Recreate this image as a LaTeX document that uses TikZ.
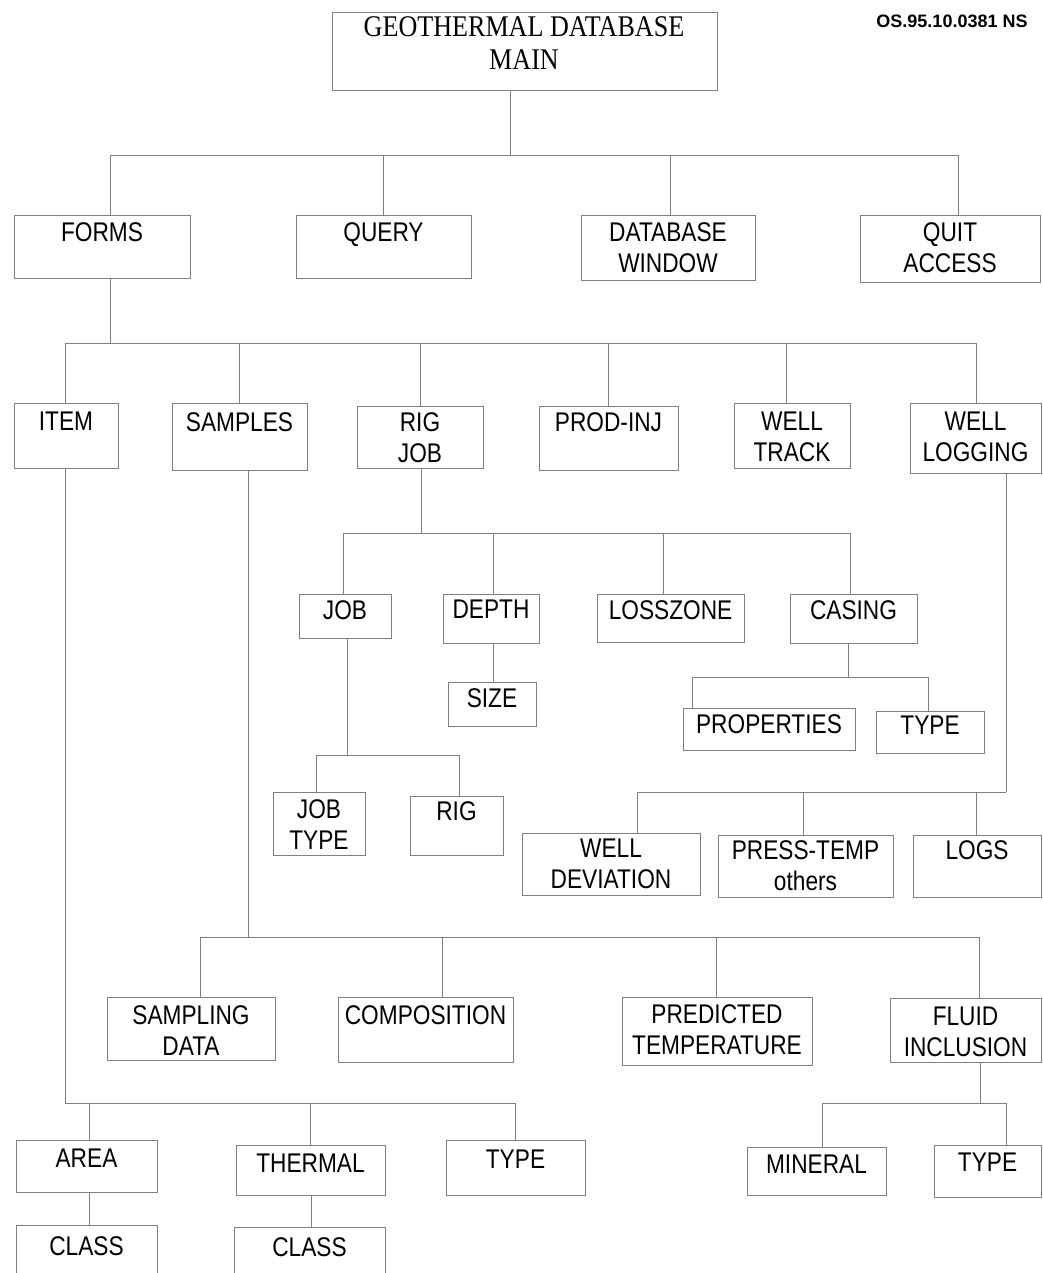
\documentclass[tikz,border=0pt]{standalone}
\usepackage{fontspec}
\setmainfont{Liberation Sans}
\newfontfamily\labelfont[FakeStretch=0.84]{Liberation Sans}
\newfontfamily\titlefont[FakeStretch=0.87]{Liberation Serif}
\newfontfamily\reffont{Liberation Sans}

\tikzset{
  cbox/.style={draw=black!50, line width=0.7pt, rectangle, inner sep=0pt, outer sep=0pt},
  clabel/.style={font=\labelfont\fontsize{27}{31}\selectfont, anchor=north, align=center, inner sep=0pt},
  ttl/.style={font=\titlefont\fontsize{30}{33}\selectfont, anchor=north, align=center, inner sep=0pt},
  link/.style={draw=black!50, line width=0.7pt},
}

% box: name, left, top, right, bottom, cap top of first line, text
\newcommand\chartbox[7]{%
  \node[cbox, minimum width={(#4)-(#2)}, minimum height={(#5)-(#3)}] (#1)
    at ({((#2)+(#4))/2},{((#3)+(#5))/2}) {};
  \node[clabel] (#1-text) at ({((#2)+(#4))/2},#6) {#7};
}

\begin{document}
\begin{tikzpicture}[x=1pt,y=-1pt]
\useasboundingbox (0,0) rectangle (1042,1273);

% ---- top ----
\node[cbox, minimum width=385pt, minimum height=78pt] (main) at (524.5,51) {};
\node[ttl] (main-text) at (524,16) {GEOTHERMAL DATABASE\\MAIN};
\node[font=\reffont\bfseries\fontsize{18}{20}\selectfont, anchor=north, inner sep=0pt]
  (docref) at (952,15) {OS.95.10.0381 NS};

% ---- level 1 ----
\chartbox{forms}{14}{215}{190}{278}{222}{FORMS}
\chartbox{query}{296}{215}{471}{278}{222}{QUERY}
\chartbox{dbw}{581}{215}{755}{280}{222}{DATABASE\\WINDOW}
\chartbox{quit}{860}{215}{1040}{282}{222}{QUIT\\ACCESS}

% ---- level 2 (forms) ----
\chartbox{item}{14}{403}{118}{468}{412}{ITEM}
\chartbox{samples}{172}{403}{307}{470}{412}{SAMPLES}
\chartbox{rigjob}{357}{406}{483}{468}{412}{RIG\\JOB}
\chartbox{prodinj}{539}{406}{678}{470}{412}{PROD-INJ}
\chartbox{welltrack}{734}{403}{850}{468}{412}{WELL\\TRACK}
\chartbox{welllog}{910}{403}{1041}{473}{412}{WELL\\LOGGING}

% ---- rig job ----
\chartbox{job}{299}{594}{391}{638}{600}{JOB}
\chartbox{depth}{443}{594}{539}{643}{600}{DEPTH}
\chartbox{losszone}{597}{594}{744}{642}{600}{LOSSZONE}
\chartbox{casing}{790}{594}{917}{643}{600}{CASING}
\chartbox{size}{448}{682}{536}{726}{688}{SIZE}
\chartbox{properties}{683}{708}{855}{750}{714}{PROPERTIES}
\chartbox{ctype}{876}{711}{984}{753}{716}{TYPE}
\chartbox{jobtype}{273}{792}{365}{855}{799}{JOB\\TYPE}
\chartbox{rig}{410}{796}{503}{855}{801}{RIG}

% ---- well logging ----
\chartbox{welldev}{522}{833}{700}{895}{839}{WELL\\DEVIATION}
\chartbox{press}{718}{835}{893}{897}{840}{PRESS-TEMP\\others}
\chartbox{logs}{913}{835}{1041}{897}{840}{LOGS}

% ---- samples ----
\chartbox{sampling}{107}{997}{275}{1060}{1005}{SAMPLING\\DATA}
\chartbox{comp}{338}{997}{513}{1062}{1005}{COMPOSITION}
\chartbox{pred}{622}{997}{812}{1065}{1004}{PREDICTED\\TEMPERATURE}
\chartbox{fluid}{890}{998}{1041}{1062}{1007}{FLUID\\INCLUSION}

% ---- item ----
\chartbox{area}{16}{1140}{157}{1192}{1149}{AREA}
\chartbox{thermal}{236}{1145}{385}{1195}{1154}{THERMAL}
\chartbox{itype}{446}{1140}{585}{1195}{1150}{TYPE}
\chartbox{class1}{16}{1225}{157}{1280}{1236}{CLASS}
\chartbox{class2}{234}{1227}{385}{1280}{1237}{CLASS}

% ---- fluid inclusion ----
\chartbox{mineral}{747}{1147}{886}{1195}{1155}{MINERAL}
\chartbox{ftype}{934}{1145}{1041}{1197}{1153}{TYPE}

% ---- connectors ----
\coordinate (j-main) at (510,155);
\draw[link] (main.south -| j-main) -- (j-main);
\draw[link] (j-main) -| ([xshift=8]forms.north);
\draw[link] (j-main) -| ([xshift=0]query.north);
\draw[link] (j-main) -| ([xshift=2]dbw.north);
\draw[link] (j-main) -| ([xshift=8]quit.north);

\coordinate (j-forms) at (110,343);
\draw[link] (forms.south -| j-forms) -- (j-forms);
\draw[link] (j-forms) -| ([xshift=-1]item.north);
\draw[link] (j-forms) -| ([xshift=0]samples.north);
\draw[link] (j-forms) -| ([xshift=0]rigjob.north);
\draw[link] (j-forms) -| ([xshift=0]prodinj.north);
\draw[link] (j-forms) -| ([xshift=-6]welltrack.north);
\draw[link] (j-forms) -| ([xshift=1]welllog.north);

\coordinate (j-rig) at (421,533);
\draw[link] (rigjob.south -| j-rig) -- (j-rig);
\draw[link] (j-rig) -| ([xshift=-2]job.north);
\draw[link] (j-rig) -| ([xshift=2]depth.north);
\draw[link] (j-rig) -| ([xshift=-7]losszone.north);
\draw[link] (j-rig) -| ([xshift=-3]casing.north);

\draw[link] ([xshift=2]depth.south) -- ([xshift=2]depth.south |- size.north);

\coordinate (j-job) at (347,755);
\draw[link] (job.south -| j-job) -- (j-job);
\draw[link] (j-job) -| ([xshift=-3]jobtype.north);
\draw[link] (j-job) -| ([xshift=3]rig.north);

\coordinate (j-casing) at (848,677);
\draw[link] (casing.south -| j-casing) -- (j-casing);
\draw[link] (j-casing) -| ([xshift=-77]properties.north);
\draw[link] (j-casing) -| ([xshift=-2]ctype.north);

\coordinate (j-log) at (1006,792);
\draw[link] (welllog.south -| j-log) -- (j-log);
\draw[link] (j-log) -| ([xshift=26]welldev.north);
\draw[link] (j-log) -| ([xshift=-2]press.north);
\draw[link] (j-log) -| ([xshift=-1]logs.north);

\coordinate (j-samp) at (248,937);
\draw[link] (samples.south -| j-samp) -- (j-samp);
\draw[link] (j-samp) -| ([xshift=9]sampling.north);
\draw[link] (j-samp) -| ([xshift=17]comp.north);
\draw[link] (j-samp) -| ([xshift=-1]pred.north);
\draw[link] (j-samp) -| ([xshift=14]fluid.north);

\coordinate (j-item) at (65,1103);
\draw[link] (item.south -| j-item) -- (j-item);
\draw[link] (j-item) -| ([xshift=3]area.north);
\draw[link] (j-item) -| ([xshift=0]thermal.north);
\draw[link] (j-item) -| ([xshift=0]itype.north);
\draw[link] ([xshift=3]area.south) -- ([xshift=3]area.south |- class1.north);
\draw[link] ([xshift=1]thermal.south) -- ([xshift=1]thermal.south |- class2.north);

\coordinate (j-fluid) at (980,1103);
\draw[link] (fluid.south -| j-fluid) -- (j-fluid);
\draw[link] (j-fluid) -| ([xshift=6]mineral.north);
\draw[link] (j-fluid) -| ([xshift=19]ftype.north);
\end{tikzpicture}
\end{document}
